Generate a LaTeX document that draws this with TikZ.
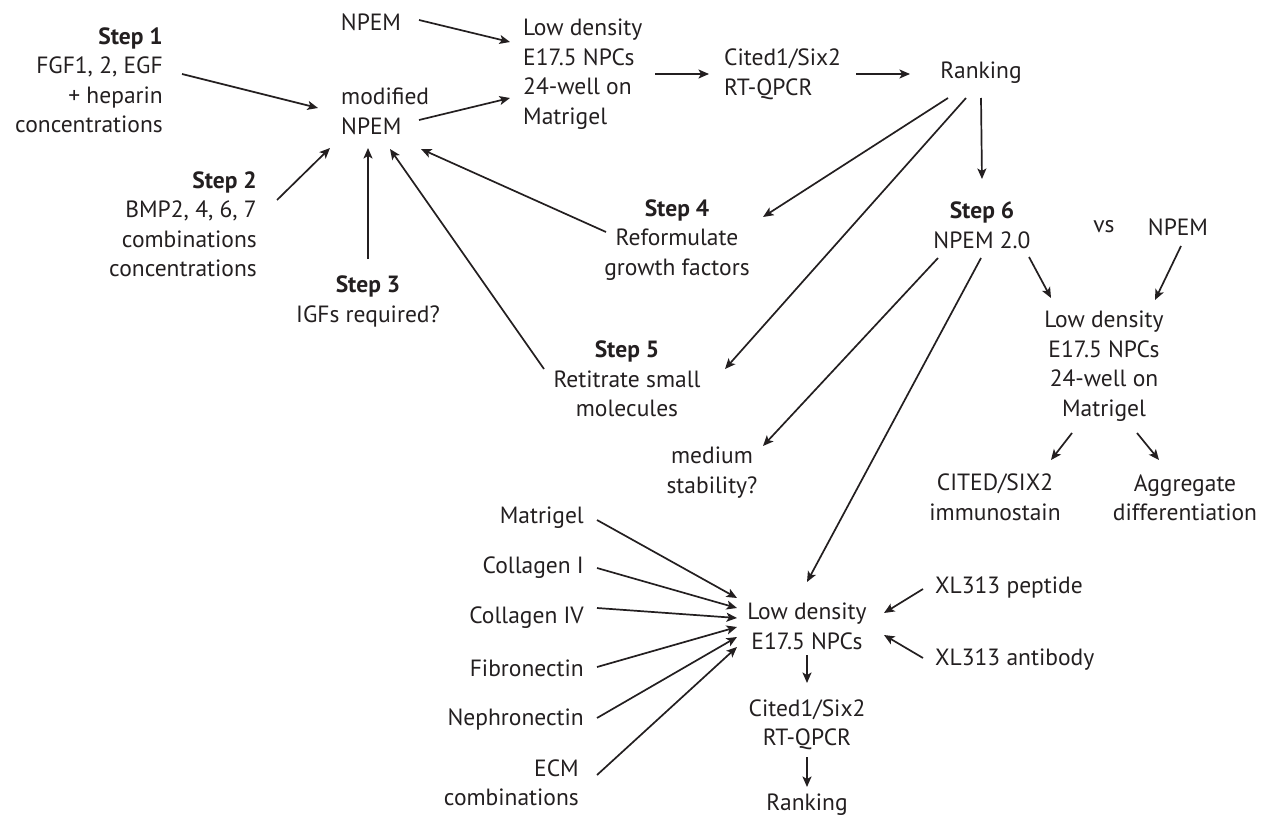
\documentclass[tikz,border=0pt]{standalone}
\usepackage{fontspec}
\setmainfont{PT Sans}
\usetikzlibrary{arrows.meta,calc}
\definecolor{ink}{HTML}{231F20}
\newcommand{\dfont}{\fontsize{23.5}{29.5}\selectfont}
\tikzset{
  lbl/.style={font=\dfont, inner sep=0pt, text=ink},
  arr/.style={draw=ink, line width=1.7pt, -{Stealth[length=10.5pt,width=9pt,inset=2.5pt]}},
}
\begin{document}
\begin{tikzpicture}[x=1pt,y=-1pt]
\useasboundingbox (0,0) rectangle (1269,816);
% top part
\node[lbl,anchor=east,align=right] (s1) at (163,80.5) {\textbf{Step 1}\\FGF1, 2, EGF\\+ heparin\\concentrations};
\node[lbl] (npem1) at (371,22) {NPEM};
\node[lbl,anchor=west,align=left] (mod) at (341,111.5) {modified\\NPEM};
\node[lbl,anchor=west,align=left] (ld1) at (523,74) {Low density\\E17.5 NPCs\\24-well on\\Matrigel};
\node[lbl,anchor=west,align=left] (cited1) at (724,74.5) {Cited1/Six2\\RT-QPCR};
\node[lbl] (rank1) at (981,73) {Ranking};
\node[lbl,anchor=east,align=right] (s2) at (257,224) {\textbf{Step 2}\\BMP2, 4, 6, 7\\combinations\\concentrations};
\node[lbl,align=center] (s3) at (368,301.5) {\textbf{Step 3}\\IGFs required?};
\node[lbl,align=center] (s4) at (677,240) {\textbf{Step 4}\\Reformulate\\growth factors};
\node[lbl,align=center] (s5) at (627,379) {\textbf{Step 5}\\Retitrate small\\molecules};
\node[lbl,align=center] (s6) at (982,225) {\textbf{Step 6}\\NPEM 2.0};
\node[lbl] (vs) at (1104,227) {vs};
\node[lbl] (npem2) at (1178,227) {NPEM};
\node[lbl,align=center] (ld2) at (1104,366) {Low density\\E17.5 NPCs\\24-well on\\Matrigel};
\node[lbl,align=center] (med) at (712,472.5) {medium\\stability?};
\node[lbl,align=center] (cited2) at (995,497.5) {CITED/SIX2\\immunostain};
\node[lbl,align=center] (agg) at (1185,498) {Aggregate\\differentiation};
% bottom part
\node[lbl,anchor=east] (m1) at (584,518) {Matrigel};
\node[lbl,anchor=east] (m2) at (584,568) {Collagen I};
\node[lbl,anchor=east] (m3) at (584,618) {Collagen IV};
\node[lbl,anchor=east] (m4) at (584,668) {Fibronectin};
\node[lbl,anchor=east] (m5) at (584,719) {Nephronectin};
\node[lbl,anchor=east,align=right] (m6) at (579,783) {ECM\\combinations};
\node[lbl,align=center] (ld3) at (807,626.5) {Low density\\E17.5 NPCs};
\node[lbl,align=center] (cited3) at (807,725) {Cited1/Six2\\RT-QPCR};
\node[lbl] (rank3) at (807,805) {Ranking};
\node[lbl,anchor=west] (xl1) at (935,587) {XL313 peptide};
\node[lbl,anchor=west] (xl2) at (935,660) {XL313 antibody};
% connectors
\draw[arr] ($(s1.east)+(19,-6.5)$) -- ($(mod.west)+(-23,-3.5)$);
\draw[arr] ($(s2.east)+(20,-24)$) -- ($(mod.west)+(-11,36.5)$);
\draw[arr] ($(s3.center)+(0,-42.5)$) -- ($(mod.west)+(27,36.5)$);
\draw[arr] ($(s5.center)+(-83,-10)$) -- ($(mod.west)+(49,37.5)$);
\draw[arr] ($(s4.center)+(-71,-8)$) -- ($(mod.west)+(80,37.5)$);
\draw[arr] ($(npem1.center)+(48,-2)$) -- ($(ld1.west)+(-13,-32)$);
\draw[arr] ($(mod.west)+(78,8.5)$) -- ($(ld1.west)+(-13,24)$);
\draw[arr] ($(ld1.west)+(132,0)$) -- ($(cited1.west)+(-15,-0.5)$);
\draw[arr] ($(cited1.west)+(132,-0.5)$) -- ($(rank1.center)+(-71,1)$);
\draw[arr] ($(rank1.center)+(0,25)$) -- ($(s6.center)+(0,-46)$);
\draw[arr] ($(rank1.center)+(-33,25)$) -- ($(s4.center)+(86,-23)$);
\draw[arr] ($(rank1.center)+(-15,25)$) -- ($(s5.center)+(98,-10)$);
\draw[arr] ($(s6.center)+(-44,33)$) -- ($(med.center)+(51,-26.5)$);
\draw[arr] ($(s6.center)+(-1,33)$) -- ($(ld3.center)+(0,-44.5)$);
\draw[arr] ($(s6.center)+(47,32)$) -- ($(ld2.center)+(-53,-68)$);
\draw[arr] ($(npem2.center)+(3,19)$) -- ($(ld2.center)+(51,-66)$);
\draw[arr] ($(ld2.center)+(-32,67)$) -- ($(cited2.center)+(56,-37.5)$);
\draw[arr] ($(ld2.center)+(33,67)$) -- ($(agg.center)+(-26,-38)$);
\draw[arr] ($(m1.east)+(13,2)$) -- ($(ld3.center)+(-70,-28.5)$);
\draw[arr] ($(m2.east)+(13,0)$) -- ($(ld3.center)+(-70,-18.5)$);
\draw[arr] ($(m3.east)+(13,-10)$) -- ($(ld3.center)+(-70,-8.5)$);
\draw[arr] ($(m4.east)+(13,-1)$) -- ($(ld3.center)+(-70,0.5)$);
\draw[arr] ($(m5.east)+(13,-1)$) -- ($(ld3.center)+(-70,10.5)$);
\draw[arr] ($(m6.east)+(18,-8)$) -- ($(ld3.center)+(-70,20.5)$);
\draw[arr] ($(xl1.west)+(-12,2)$) -- ($(ld3.center)+(77,-13.5)$);
\draw[arr] ($(xl2.west)+(-12,-2)$) -- ($(ld3.center)+(77,8.5)$);
\draw[arr] ($(ld3.center)+(0,28.5)$) -- ($(cited3.center)+(0,-42)$);
\draw[arr] ($(cited3.center)+(0,32)$) -- ($(rank3.center)+(0,-18)$);
\end{tikzpicture}
\end{document}
